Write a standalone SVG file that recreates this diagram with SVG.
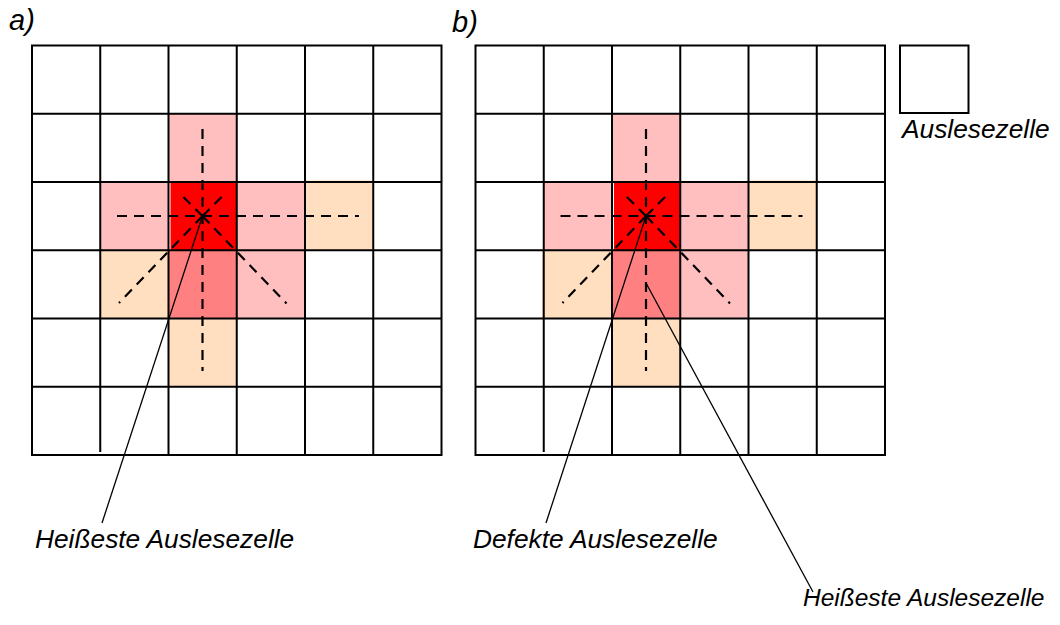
<svg xmlns="http://www.w3.org/2000/svg" width="1060" height="625" viewBox="0 0 1060 625">
  <style>
    .lbl { font-family: "Liberation Sans", Arial, sans-serif; font-style: italic; font-size: 26.3px; fill: #000; }
    .tag { font-size: 29px; }
    .small { font-size: 24.5px; }
    .grid { fill: none; stroke: #000; stroke-width: 2; }
    .dash { fill: none; stroke: #000; stroke-width: 2.2; stroke-dasharray: 10 7; }
    .lead { fill: none; stroke: #000; stroke-width: 1.3; }
    .pink { fill: #ffbfbf; }
    .red { fill: #ff0000; }
    .dark { fill: #ff8080; }
    .peach { fill: #ffdfbf; }
  </style>
  <rect x="0" y="0" width="1060" height="625" fill="#fff"/>

  <g id="panel-a">
    <text class="lbl tag" x="9" y="30">a)</text>
    <g id="cells-a">
      <rect class="pink" x="168.5" y="113.75" width="68.25" height="68.25"/>
      <rect class="pink" x="100.25" y="182" width="68.25" height="68.25"/>
      <rect class="pink" x="236.75" y="182" width="68.25" height="68.25"/>
      <rect class="pink" x="236.75" y="250.25" width="68.25" height="68.25"/>
      <rect class="red" x="170.5" y="182" width="66.25" height="68.25"/>
      <rect class="dark" x="168.5" y="250.25" width="68.25" height="68.25"/>
      <rect class="peach" x="305" y="180.5" width="68.25" height="69.75"/>
      <rect class="peach" x="100.25" y="250.25" width="68.25" height="68.25"/>
      <rect class="peach" x="168.5" y="318.5" width="68.25" height="68.25"/>
    </g>
    <g id="grid-a" class="grid">
      <rect x="32" y="45.5" width="409.5" height="409.5"/>
      <path d="M100.25 45.5V452 M168.5 45.5V455 M236.75 45.5V455 M305 45.5V455 M373.25 45.5V455 M32 113.75H441.5 M32 182H441.5 M32 250.25H441.5 M32 318.5H441.5 M32 386.75H441.5"/>
    </g>
  </g>

  <g id="panel-b">
    <text class="lbl tag" x="452" y="32">b)</text>
    <g id="cells-b" transform="translate(443.5,0)">
      <rect class="pink" x="168.5" y="113.75" width="68.25" height="68.25"/>
      <rect class="pink" x="100.25" y="182" width="68.25" height="68.25"/>
      <rect class="pink" x="236.75" y="182" width="68.25" height="68.25"/>
      <rect class="pink" x="236.75" y="250.25" width="68.25" height="68.25"/>
      <rect class="red" x="170.5" y="182" width="66.25" height="68.25"/>
      <rect class="dark" x="168.5" y="250.25" width="68.25" height="68.25"/>
      <rect class="peach" x="305" y="180.5" width="68.25" height="69.75"/>
      <rect class="peach" x="98.5" y="250.25" width="70" height="68.25"/>
      <rect class="peach" x="168.5" y="318.5" width="68.25" height="68.25"/>
    </g>
    <g id="grid-b" class="grid" transform="translate(443.5,0)">
      <rect x="32" y="45.5" width="409.5" height="409.5"/>
      <path d="M100.25 45.5V452 M168.5 45.5V455 M236.75 45.5V455 M305 45.5V455 M373.25 45.5V455 M32 113.75H441.5 M32 182H441.5 M32 250.25H441.5 M32 318.5H441.5 M32 386.75H441.5"/>
    </g>
  </g>

  <g id="legend">
    <rect class="grid" x="900" y="45.5" width="68.5" height="67.5"/>
    <text class="lbl" x="902" y="138">Auslesezelle</text>
  </g>

  <g id="connectors">
    <g id="dashes-a" class="dash">
      <path d="M202.5 129V371"/>
      <path d="M117 216H359"/>
      <path d="M202.5 216L119 303"/>
      <path d="M202.5 216L286.5 303.5"/>
      <path d="M202.5 216L179.5 193"/>
      <path d="M202.5 216L225.5 193"/>
    </g>
    <g id="dashes-b" class="dash" transform="translate(443.5,0)">
      <path d="M202.5 129V371"/>
      <path d="M117 216H359"/>
      <path d="M202.5 216L119 303"/>
      <path d="M202.5 216L286.5 303.5"/>
      <path d="M202.5 216L179.5 193"/>
      <path d="M202.5 216L225.5 193"/>
    </g>
    <path class="lead" d="M202.5 216L102 523"/>
    <path class="lead" d="M646 216L546 523"/>
    <path class="lead" d="M646 283L813 592"/>
  </g>

  <g id="labels">
    <text class="lbl" x="35" y="548">Heißeste Auslesezelle</text>
    <text class="lbl" x="473" y="548">Defekte Auslesezelle</text>
    <text class="lbl small" x="803" y="606">Heißeste Auslesezelle</text>
  </g>
</svg>
